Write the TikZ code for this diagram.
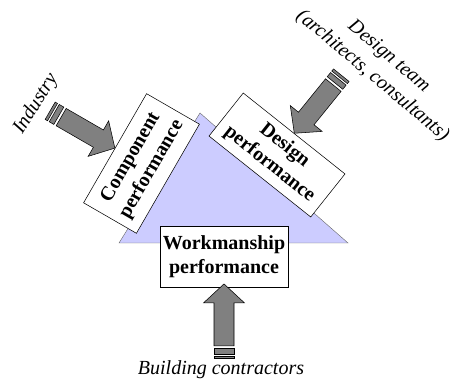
\documentclass[tikz,border=0pt]{standalone}
\usepackage{fontspec}
\setmainfont{Liberation Serif}
\usetikzlibrary{positioning}

\definecolor{wedgeblue}{HTML}{CCCCFF}
\definecolor{feedgrey}{HTML}{808080}

\begin{document}
\begin{tikzpicture}[
    x=0.75pt, y=0.75pt,
    box/.style={
        draw,
        fill=white,
        rectangle,
        inner sep=0pt,
        align=center,
        font=\fontsize{15}{18}\selectfont\bfseries
    },
    who/.style={
        align=center,
        font=\fontsize{15}{19}\selectfont\itshape
    },
    % block arrow with striped tail, tip at the origin
    pics/feed/.style={code={
        \filldraw[fill=feedgrey, line width=0.4pt]
            (-62,-10) -- (-19,-10) -- (-19,-20.5) -- (0,0)
            -- (-19,20.5) -- (-19,10) -- (-62,10) -- cycle;
        \filldraw[fill=feedgrey, line width=0.4pt] (-70,-10) rectangle (-64.7,10);
        \filldraw[fill=feedgrey, line width=0.4pt] (-74.7,-10) rectangle (-72,10);
    }}
]
\useasboundingbox (0,0) rectangle (451,381);

% the performance wedge
\filldraw[fill=wedgeblue, draw=black!60, line width=0.3pt]
    (200,268) -- (348,138) -- (119,138) -- cycle;

\node[box, rotate=60, minimum width=94.5pt, minimum height=45.75pt]
    (comp) at (141.5,217.5) {Component\\performance};

\node[box, rotate=-38.5, minimum width=97.5pt, minimum height=41.25pt]
    (design) at (277,226) {Design\\performance};

\node[box, minimum width=96pt, minimum height=45.75pt]
    (work) at (224,124.5) {Workmanship\\performance};

% who feeds each side
\node[who, rotate=58] (industry) at (36,277) {Industry};
\node[who, rotate=-40] (team) at (380.5,314.5) {Design team\\(architects, consultants)};
\node[who] (builders) at (221,11) {Building contractors};

\pic[rotate=-30] at (comp.north) {feed};
\pic[rotate=-129] at (design.north) {feed};
\pic[rotate=90] at ([yshift=2.5pt]work.south) {feed};

\end{tikzpicture}
\end{document}
